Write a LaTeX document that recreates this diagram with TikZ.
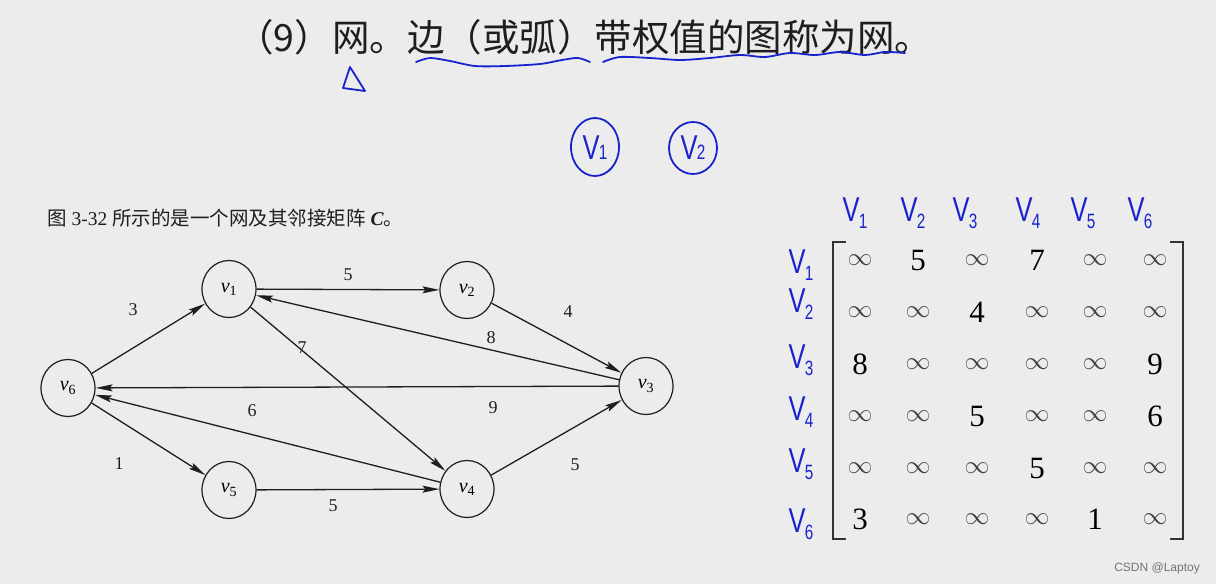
\documentclass[tikz,border=0pt]{standalone}
\usepackage{fontspec}
\setmainfont{Liberation Serif}
\newfontfamily\cjk{Noto Sans CJK SC}
\newfontfamily\hand{Liberation Sans}
\usetikzlibrary{arrows.meta,shapes.geometric}
\definecolor{bg}{RGB}{236,236,236}
\definecolor{ink}{RGB}{25,35,205}
\definecolor{txt}{RGB}{30,30,30}
\begin{document}
\begin{tikzpicture}[x=1pt,y=-1pt,
  vert/.style={ellipse,draw=txt,line width=1.2pt,minimum width=54pt,minimum height=57pt,inner sep=0pt,font=\fontsize{20}{20}\selectfont},
  arc/.style={draw=txt,line width=1.3pt,-{Stealth[length=17pt,width=7pt,inset=3pt]}},
  wlab/.style={font=\fontsize{18}{18}\selectfont,text=txt},
  inf/.style={font=\fontsize{25}{25}\selectfont,text=black!75},
  num/.style={font=\fontsize{31}{31}\selectfont,text=black},
  handlab/.style={text=ink,font=\hand\fontsize{30}{30}\selectfont,inner sep=0pt,yscale=1.15,xscale=0.85},
  handline/.style={draw=ink,line width=1.8pt,line cap=round,line join=round},
  brk/.style={draw=black!80,line width=2pt}
]
\fill[bg] (0,0) rectangle (1216,584);
\useasboundingbox (0,0) rectangle (1216,584);

% title
\node[anchor=west,inner sep=0pt,text=txt,font=\cjk\fontsize{37.5}{37.5}\selectfont] (title) at (236,37) {（9）网。边（或弧）带权值的图称为网。};

% handwritten marks
\draw[handline] (350,67) -- (343,88) -- (365,91) -- cycle;
\draw[handline] plot[smooth] coordinates {(416,62) (430,58) (450,61) (475,66) (505,66) (540,64) (562,60) (578,58) (590,62)};
\draw[handline] plot[smooth] coordinates {(603,62) (620,57) (650,58) (680,60) (710,58) (740,55) (765,57) (790,53) (815,55) (840,52) (865,55) (885,52) (905,53)};
\draw[handline] (595,147) ellipse [x radius=24pt, y radius=29pt];
\draw[handline] (693,148) ellipse [x radius=24pt, y radius=26pt];
\node[handlab] (hv1) at (595,148) {V\kern-1pt{\fontsize{18}{18}\selectfont 1}};
\node[handlab] (hv2) at (693,148) {V\kern-1pt{\fontsize{18}{18}\selectfont 2}};

% subtitle
\node[anchor=west,inner sep=0pt,text=txt,font=\fontsize{19.5}{19.5}\selectfont] (sub) at (47,218)
  {{\cjk 图} 3-32 {\cjk 所示的是一个网及其邻接矩阵} \textbf{\textit{C}}{\cjk 。}};

% graph
\node[vert] (v1) at (229,289) {\textit{v}\textsubscript{1}};
\node[vert] (v2) at (467,290) {\textit{v}\textsubscript{2}};
\node[vert] (v3) at (646,386) {\textit{v}\textsubscript{3}};
\node[vert] (v4) at (467,489) {\textit{v}\textsubscript{4}};
\node[vert] (v5) at (229,490) {\textit{v}\textsubscript{5}};
\node[vert] (v6) at (68,388) {\textit{v}\textsubscript{6}};

\draw[arc] (v6) -- (v1);
\draw[arc] (v1) -- (v2);
\draw[arc] (v2) -- (v3);
\draw[arc] (v3) -- (v1);
\draw[arc] (v1) -- (v4);
\draw[arc] (v3) -- (v6);
\draw[arc] (v4) -- (v6);
\draw[arc] (v6) -- (v5);
\draw[arc] (v5) -- (v4);
\draw[arc] (v4) -- (v3);

\node[wlab] (w61) at (133,310) {3};
\node[wlab] (w12) at (348,275) {5};
\node[wlab] (w23) at (568,312) {4};
\node[wlab] (w31) at (491,338) {8};
\node[wlab] (w14) at (302,348) {7};
\node[wlab] (w36) at (493,408) {9};
\node[wlab] (w46) at (252,411) {6};
\node[wlab] (w65) at (119,464) {1};
\node[wlab] (w54) at (333,506) {5};
\node[wlab] (w43) at (575,465) {5};

% matrix brackets
\draw[brk] (846,242) -- (833,242) -- (833,539) -- (846,539);
\draw[brk] (1170,242) -- (1183,242) -- (1183,539) -- (1170,539);

% matrix entries
\def\cx{{860,918,977,1037,1095,1155}}
\def\ry{{260,312,364,416,468,519}}
\foreach \r/\row in {1/{i,5,i,7,i,i},2/{i,i,4,i,i,i},3/{8,i,i,i,i,9},4/{i,i,5,i,i,6},5/{i,i,i,5,i,i},6/{3,i,i,i,1,i}} {
  \foreach \e [count=\c] in \row {
    \pgfmathsetmacro{\xx}{\cx[\c-1]}
    \pgfmathsetmacro{\yy}{\ry[\r-1]}
    \if i\e
      \node[inf] (m\r\c) at (\xx,\yy) {$\infty$};
    \else
      \node[num] (m\r\c) at (\xx,\yy) {\e};
    \fi
  }
}

% handwritten headers
\foreach \i/\x in {1/855,2/913,3/965,4/1028,5/1083,6/1140} {
  \node[handlab] (ch\i) at (\x,213) {V\kern-1pt{\fontsize{18}{18}\selectfont\raisebox{-6pt}{\i}}};
}
\foreach \i/\y in {1/265,2/304,3/360,4/412,5/464,6/524} {
  \node[handlab] (rh\i) at (801,\y) {V\kern-1pt{\fontsize{18}{18}\selectfont\raisebox{-6pt}{\i}}};
}

\node[anchor=east,inner sep=0pt,text=black!55,font=\hand\fontsize{12}{12}\selectfont] (wm) at (1200,568) {CSDN @Laptoy};
\end{tikzpicture}
\end{document}
